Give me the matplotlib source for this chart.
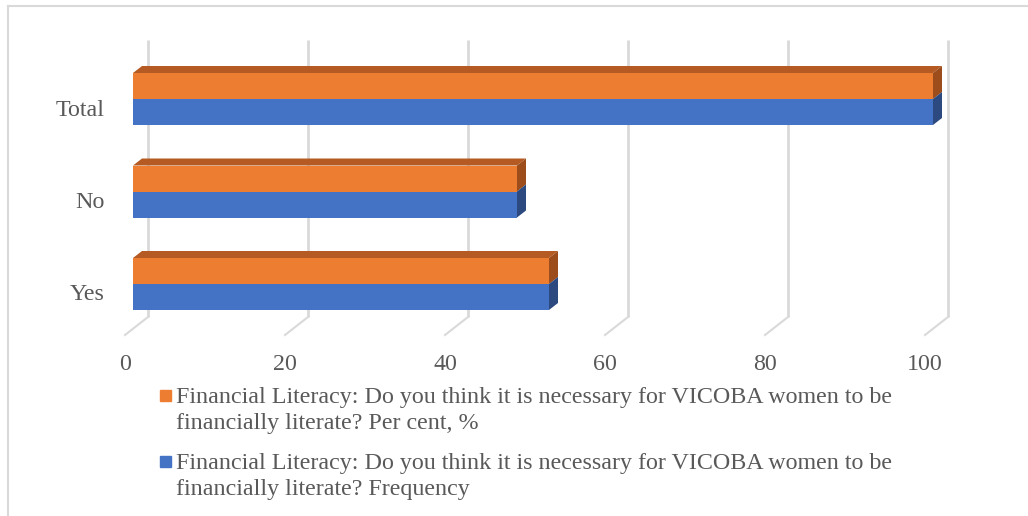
import matplotlib
matplotlib.use('Agg')
import matplotlib.pyplot as plt
from matplotlib.lines import Line2D
from matplotlib.patches import Rectangle

# data
categories = ['Yes', 'No', 'Total']
frequency = [52, 48, 100]
per_cent = [52, 48, 100]
ticks = [0, 20, 40, 60, 80, 100]
series_labels = ['Financial Literacy: Do you think it is necessary for VICOBA women to be\nfinancially literate? Per cent, %',
                 'Financial Literacy: Do you think it is necessary for VICOBA women to be\nfinancially literate? Frequency']

ORANGE, ORANGE_TOP, ORANGE_SIDE = '#ED7D31', '#B55A22', '#9C4D1B'
BLUE, BLUE_SIDE = '#4472C4', '#2C4A80'
GRID = '#D9D9D9'
TXT = '#595959'
FS = 17.3

plt.rcParams['font.family'] = ['Liberation Serif', 'DejaVu Serif']

W, H = 1028, 516
fig = plt.figure(figsize=(W / 100, H / 100), dpi=100)
ax = fig.add_axes([0, 0, 1, 1])

# layout: 8 px per value unit, 92.5 px per category row
PXU, ROW = 8.0, 92.5
X0, Y0 = 133, 284
ax.set_xlim(-X0 / PXU, (W - X0) / PXU)
ax.set_ylim((Y0 - H) / ROW, Y0 / ROW)
ax.axis('off')

def dx(p):
    return p / PXU

def dy(p):
    return p / ROW

bh = dy(26)
depth_x, depth_y = dx(9), dy(7)
wall_x = dx(15)
grid_top, grid_bot, floor_y, floor_x = dy(Y0 - 40), dy(Y0 - 317), dy(Y0 - 335), dx(-8)

# gridlines on back wall + floor ticks
for t in ticks:
    ax.plot([t + wall_x, t + wall_x], [grid_top, grid_bot], color=GRID, lw=2, zorder=1, solid_capstyle='butt')
    ax.plot([t + wall_x, t + floor_x], [grid_bot, floor_y], color=GRID, lw=1.5, zorder=1)
    ax.text(t + floor_x, dy(Y0 - 365), str(t), ha='center', va='center', fontsize=FS, color=TXT)

# 3D bars
for i, cat in enumerate(categories):
    v1, v2 = per_cent[i], frequency[i]
    ax.barh(i + bh / 2, v1, height=bh, color=ORANGE, zorder=3)
    ax.barh(i - bh / 2, v2, height=bh, color=BLUE, zorder=3)
    top = i + bh
    ax.fill([0, v1, v1 + depth_x, depth_x], [top, top, top + depth_y, top + depth_y],
            color=ORANGE_TOP, zorder=3, lw=0)
    ax.fill([v1, v1 + depth_x, v1 + depth_x, v1], [i, i + depth_y, top + depth_y, top],
            color=ORANGE_SIDE, zorder=3, lw=0)
    ax.fill([v2, v2 + depth_x, v2 + depth_x, v2], [i - bh, i - bh + depth_y, i + depth_y, i],
            color=BLUE_SIDE, zorder=3, lw=0)
    ax.text(dx(105 - X0), i - dy(11), cat, ha='right', va='center', fontsize=FS, color=TXT)

# legend
def px(x, y):
    return x / W, 1 - y / H

for (ly, col, lab) in [(395, ORANGE, series_labels[0]), (461, BLUE, series_labels[1])]:
    sx, sy = px(160, ly + 6)
    fig.add_artist(Rectangle((sx, sy), 11 / W, 11 / H, transform=fig.transFigure, color=col))
    tx, ty = px(176, ly - 8)
    fig.text(tx, ty, lab, ha='left', va='top', fontsize=FS, color=TXT, linespacing=1.3)

# chart frame (cropped on right and bottom)
fig.add_artist(Line2D([8 / W, 8 / W], [0, 1 - 6 / H], transform=fig.transFigure, color=GRID, lw=1.5))
fig.add_artist(Line2D([8 / W, 1], [1 - 6 / H, 1 - 6 / H], transform=fig.transFigure, color=GRID, lw=1.5))

fig.savefig('out.png', dpi=100)
